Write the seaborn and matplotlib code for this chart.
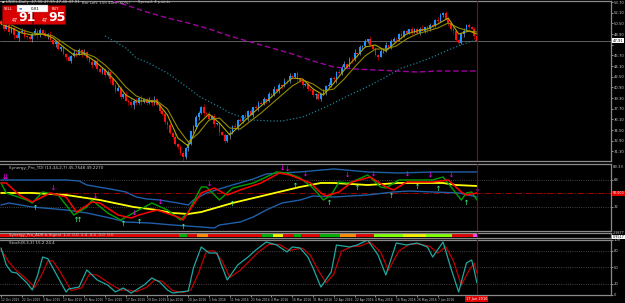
import matplotlib
matplotlib.use("Agg")
import matplotlib.pyplot as plt
from matplotlib.patches import Rectangle
import pandas as pd
import seaborn as sns

# ---------------- daily price bars (oldest first) ----------------
first_open = 50.90
close = [
    50.40, 49.70, 50.30, 49.20, 49.80, 48.70, 48.30, 49.20, 49.40, 48.60,
    48.40, 48.10, 48.90, 49.40, 48.70, 49.50, 49.10, 48.60, 48.90, 48.00,
    47.40, 47.70, 46.60, 46.90, 45.90, 45.50, 44.90, 45.60, 46.10, 45.80,
    46.50, 45.90, 46.20, 45.30, 44.70, 44.30, 44.90, 43.70, 43.20, 43.60,
    42.70, 43.20, 42.10, 41.30, 40.40, 40.80, 39.50, 39.90, 38.90, 38.70,
    38.20, 38.90, 38.50, 39.30, 38.70, 39.20, 38.50, 39.00, 38.60, 39.10,
    38.30, 37.40, 36.90, 35.70, 35.20, 34.10, 33.50, 32.40, 31.90, 31.00,
    30.40, 31.80, 32.40, 34.30, 34.90, 36.50, 37.00, 38.00, 37.00, 36.90,
    36.20, 36.60, 35.40, 35.50, 34.20, 33.80, 32.90, 33.70, 34.00, 35.10,
    34.90, 36.00, 35.80, 36.70, 36.40, 37.30, 36.80, 37.90, 37.80, 38.60,
    38.40, 39.10, 38.90, 39.90, 39.70, 40.60, 40.30, 41.30, 41.10, 41.90,
    41.80, 42.60, 42.40, 43.00, 42.20, 41.90, 41.20, 41.40, 40.60, 40.50,
    39.70, 39.90, 39.10, 39.90, 40.20, 41.10, 41.30, 42.30, 42.10, 43.20,
    43.00, 44.00, 44.40, 44.00, 45.20, 45.10, 46.10, 45.90, 46.90, 47.10,
    47.90, 48.10, 47.20, 46.60, 45.80, 45.50, 46.30, 46.40, 47.20, 47.00,
    47.80, 48.20, 48.10, 48.90, 48.60, 49.30, 49.10, 49.60, 49.20, 49.60,
    49.10, 49.70, 49.40, 49.90, 49.60, 50.30, 50.10, 51.00, 50.90, 51.80,
    52.00, 51.10, 50.60, 49.60, 49.30, 48.00, 47.60, 48.90, 49.40, 50.20,
    49.90, 49.70, 48.60, 47.91,
]
# shadow lengths in tenths of a dollar, one digit per bar
wick_up_digits = ("3241325243" "2314232415" "2132413252" "3142351324" "2314253142"
                  "6342513425" "2314231524" "3251423142" "5231423152" "4231524132"
                  "2413252314" "2531423152" "4132514231" "5241325142" "3152413251"
                  "4231524132" "3251423152" "2413523142" "4231")
wick_dn_digits = ("2314252413" "3241523142" "2413251324" "1423152413" "3152413214"
                  "2531423154" "2413524132" "6241325142" "3152413251" "2413251324"
                  "3152413251" "4231524132" "2513241325" "1324152413" "2413251324"
                  "3152413251" "2413524132" "3152413251" "3152")

# moving averages on the price window
fast_i = list(range(0, 184, 4)) + [183]
fast_ma = [50.40, 49.80, 49.05, 48.75, 48.90, 48.30, 46.95, 45.75, 45.90, 44.85,
           43.50, 41.85, 39.75, 38.85, 38.85, 38.70, 36.75, 33.30, 32.10, 35.40,
           36.90, 35.55, 33.75, 35.25, 36.75, 38.10, 39.45, 40.95, 42.30, 42.15,
           40.65, 39.75, 41.55, 43.50, 45.15, 46.95, 47.25, 46.35, 47.70, 48.90,
           49.35, 49.65, 50.40, 51.30, 48.90, 49.35, 48.90]
slow_ma = [50.70, 50.25, 49.50, 49.05, 48.90, 48.60, 47.55, 46.50, 46.05, 45.45,
           44.25, 42.75, 40.95, 39.60, 39.00, 38.85, 37.65, 34.80, 32.70, 34.05,
           36.00, 36.30, 34.80, 34.65, 35.85, 37.05, 38.40, 39.75, 41.10, 42.00,
           41.40, 40.35, 40.65, 42.15, 43.95, 45.60, 46.65, 46.65, 47.10, 48.15,
           48.90, 49.35, 49.80, 50.55, 49.80, 49.35, 49.20]
teal_i = [40, 48, 52, 56, 64, 72, 76, 84, 88, 96, 104, 108, 116,
          124, 128, 134, 140, 148, 154, 160, 166, 172, 179, 183]
teal_ma = [48.60, 46.80, 45.30, 44.70, 43.05,
           40.80, 39.60, 37.95, 37.05, 36.00, 35.85, 35.85, 36.45, 37.80, 38.55,
           39.75, 40.80, 42.45, 43.80, 44.55, 45.45, 46.50, 47.55, 48.00]
long_i = [40, 48, 56, 64, 72, 80, 88, 96, 104, 112, 120, 128, 136, 144, 152, 160,
          168, 176, 183]
long_ma = [54.15, 53.25, 52.20, 51.30, 50.55, 49.65, 48.60, 47.70, 46.80, 45.90,
           44.85, 43.95, 43.65, 43.50, 43.35, 43.20, 43.35, 43.35, 43.35]
price_ticks = [53.70, 52.10, 50.50, 48.90, 47.30, 45.70, 44.10, 42.50, 40.90,
               39.30, 37.70, 36.10, 34.50, 32.90, 31.30]

# ---------------- TDI window ----------------
green_i = [0, 2, 10, 12, 16, 22, 28, 33, 35, 41, 46, 53, 58, 64, 69, 72, 77, 79, 84,
           89, 97, 102, 106, 110, 115, 120, 124, 127, 130, 133, 135, 141, 146, 148,
           153, 160, 166, 170, 174, 177, 179, 181, 183]
green_v = [64.0, 50.7, 41.3, 37.3, 52.0, 48.0, 21.3, 32.0, 41.3, 24.0, 14.7, 28.0,
           37.3, 28.0, 14.7, 25.3, 58.7, 58.7, 41.3, 57.3, 64.0, 72.0, 78.7, 77.3,
           70.7, 57.3, 41.3, 48.0, 65.3, 64.0, 65.3, 74.7, 58.7, 57.3, 68.0, 68.0,
           68.0, 72.0, 54.7, 41.3, 50.7, 52.0, 41.3]
red_i = [0, 2, 7, 12, 19, 25, 29, 35, 38, 45, 50, 53, 60, 68, 70, 77, 82, 87, 92,
         100, 107, 111, 119, 123, 125, 130, 135, 142, 148, 151, 156, 166, 172, 177,
         179, 183]
red_v = [64.0, 64.0, 48.0, 38.7, 50.7, 45.3, 25.3, 38.7, 37.3, 21.3, 17.3, 21.3,
         28.0, 18.7, 14.7, 50.7, 57.3, 48.0, 54.7, 64.0, 77.3, 74.7, 64.0, 50.7,
         46.7, 52.0, 65.3, 72.0, 58.7, 54.7, 65.3, 65.3, 68.0, 52.0, 48.0, 50.7]
yellow_i = [0, 12, 25, 38, 51, 60, 66, 72, 77, 89, 102, 115, 123, 128, 141, 153,
            170, 175, 183]
yellow_v = [50.7, 50.7, 48.0, 41.3, 32.0, 28.0, 24.0, 22.7, 25.3, 37.3, 48.0, 58.7,
            64.0, 64.0, 61.3, 64.0, 64.0, 61.3, 60.0]
upper_i = [0, 25, 30, 33, 42, 48, 52, 56, 61, 68, 72, 74, 79, 89, 97, 102, 107, 115,
           128, 141, 153, 166, 183]
upper_v = [68.0, 68.0, 66.7, 61.3, 56.0, 52.0, 45.3, 42.7, 41.3, 37.3, 34.7, 41.3,
           50.7, 61.3, 69.3, 76.0, 77.3, 78.7, 82.7, 78.7, 77.3, 78.7, 78.7]
lower_i = [0, 3, 12, 25, 33, 42, 48, 57, 66, 77, 82, 84, 92, 97, 102, 108, 115, 120,
           128, 141, 151, 157, 166, 176, 183]
lower_v = [34.7, 37.3, 32.0, 28.0, 24.0, 17.3, 12.0, 10.7, 8.0, 5.3, 4.0, 8.0, 12.0,
           18.7, 28.0, 37.3, 41.3, 46.7, 45.3, 48.0, 52.0, 53.3, 52.0, 50.7, 45.3]
sell_i = [1, 2, 20, 36, 51, 61, 80, 108, 110, 117, 133, 143, 156, 165, 173, 183]
sell_v = [73.3, 73.3, 58.7, 48.0, 25.3, 40.0, 64.0, 85.3, 84.0, 77.3, 76.0, 77.3,
          77.3, 76.0, 76.0, 57.3]
buy_i = [13, 29, 30, 47, 53, 70, 89, 113, 126, 137, 150, 160, 168, 179]
buy_v = [32.0, 16.0, 16.0, 10.7, 13.3, 6.7, 37.3, 61.3, 38.7, 58.7, 48.0, 60.0,
         57.3, 38.7]

# ---------------- signal strip ----------------
strip_names = ["red", "green", "red", "orange", "red", "green", "yellow", "red",
               "green", "red", "green", "orange", "red", "lime", "yellow", "lime",
               "red", "magenta"]
strip_runs = [69, 3, 4, 4, 21, 4, 4, 4, 3, 7, 8, 6, 7, 11, 9, 10, 8, 2]

# ---------------- stochastic ----------------
st_i = [0, 2, 4, 6, 10, 12, 14, 16, 18, 21, 25, 26, 30, 33, 37, 41, 44, 47, 50, 52,
        55, 58, 61, 64, 66, 69, 72, 74, 77, 80, 83, 87, 91, 95, 98, 102, 106, 110,
        112, 115, 118, 120, 123, 127, 129, 134, 137, 141, 145, 148, 152, 156, 160,
        164, 166, 170, 173, 176, 179, 181, 182, 183]
st_main = [85.5, 54.5, 41.8, 40.0, 21.8, 9.1, 35.0, 69.1, 66.0, 40.0, 5.5, 10.9,
           14.5, 45.5, 27.3, 18.2, 5.5, 12.7, 3.6, 9.1, 18.2, 30.9, 23.6, 9.1, 3.6,
           5.5, 7.3, 49.1, 87.3, 76.4, 76.4, 27.3, 54.5, 69.1, 81.8, 96.4, 90.9,
           78.2, 87.3, 85.5, 69.1, 49.1, 14.5, 41.8, 90.9, 87.3, 90.9, 100.0, 72.7,
           36.4, 94.5, 90.9, 94.5, 87.3, 69.1, 96.4, 49.1, 5.5, 58.2, 63.6, 45.0,
           22.0]
sg_i = [0, 3, 6, 9, 13, 16, 18, 20, 23, 27, 31, 34, 37, 42, 46, 49, 52, 56, 59, 62,
        66, 70, 73, 76, 79, 82, 85, 88, 92, 96, 99, 103, 107, 111, 113, 116, 119,
        122, 125, 128, 131, 135, 138, 142, 146, 149, 153, 157, 161, 165, 168, 171,
        174, 177, 180, 182, 183]
st_signal = [82.0, 60.0, 44.0, 32.0, 14.0, 40.0, 62.0, 62.0, 40.0, 8.0, 13.0, 38.0,
             36.0, 20.0, 9.0, 9.0, 6.0, 14.0, 27.0, 25.0, 8.0, 4.5, 9.0, 40.0, 80.0,
             80.0, 62.0, 32.0, 45.0, 64.0, 78.0, 92.0, 92.0, 81.0, 83.0, 85.0, 72.0,
             45.0, 22.0, 38.0, 80.0, 88.0, 89.0, 96.0, 78.0, 45.0, 80.0, 92.0, 93.0,
             88.0, 76.0, 88.0, 62.0, 18.0, 45.0, 58.0, 40.0]

date_labels = ["12 Oct 2015", "22 Oct 2015", "3 Nov 2015", "13 Nov 2015",
               "25 Nov 2015", "7 Dec 2015", "17 Dec 2015", "29 Dec 2015",
               "8 Jan 2016", "20 Jan 2016", "1 Feb 2016", "11 Feb 2016",
               "23 Feb 2016", "4 Mar 2016", "16 Mar 2016", "31 Mar 2016",
               "12 Apr 2016", "22 Apr 2016", "4 May 2016", "16 May 2016",
               "26 May 2016", "7 Jun 2016"]

# ---------------- drawing ----------------
sns.set_style("dark", {"axes.facecolor": "black", "figure.facecolor": "black"})
plt.rcParams["font.family"] = ["DejaVu Sans"]

W, H = 625, 303
RIGHT = 611
fig = plt.figure(figsize=(W / 100, H / 100), dpi=100, facecolor="black")
TXT = "#c8c8c8"
FS = 2.7


def panel(top, bottom):
    ax = fig.add_axes([0, 1 - bottom / H, RIGHT / W, (bottom - top) / H])
    ax.set_facecolor("black")
    ax.set_xlim(-0.4, 234.6)
    for s in ("top", "bottom", "right"):
        ax.spines[s].set_color("#8a8a8a")
        ax.spines[s].set_linewidth(0.9)
    ax.spines["left"].set_visible(False)
    ax.yaxis.tick_right()
    ax.tick_params(axis="y", colors=TXT, labelsize=FS, length=1.5, width=0.5, pad=0.5)
    ax.tick_params(axis="x", bottom=False, labelbottom=False)
    ax.grid(False)
    return ax


ax = panel(0.5, 161)
ax_tdi = panel(164, 231)
ax_strip = panel(232.5, 237.5)
ax_st = panel(239.5, 295)

# candles
bars = pd.DataFrame({"o": [first_open] + close[:-1], "c": close,
                     "wu": [int(d) / 10 for d in wick_up_digits],
                     "wd": [int(d) / 10 for d in wick_dn_digits]})
bars["i"] = range(len(bars))
bars["top"] = bars[["o", "c"]].max(axis=1)
bars["bot"] = bars[["o", "c"]].min(axis=1)
bars["up"] = bars.c >= bars.o
body_col = bars.up.map({True: "#1e90ff", False: "#ff1010"})
wick_col = bars.up.map({True: "#8797aa", False: "#c80000"})
ax.vlines(bars.i, bars.bot - bars.wd, bars.top + bars.wu, colors=wick_col, lw=0.5, zorder=3)
ax.bar(bars.i, (bars.top - bars.bot).clip(lower=0.05), bottom=bars.bot, width=0.72,
       color=body_col, lw=0, zorder=4)

sns.lineplot(x=long_i, y=long_ma, ax=ax, color="#a000a0", lw=1.0,
             linestyle=(0, (4, 2)), zorder=5)
sns.lineplot(x=teal_i, y=teal_ma, ax=ax, color="#1b7f90", lw=0.9, linestyle=":", zorder=5)
sns.lineplot(x=fast_i, y=slow_ma, ax=ax, color="#8f8a00", lw=0.8, zorder=6)
sns.lineplot(x=fast_i, y=fast_ma, ax=ax, color="#b0a800", lw=0.8, zorder=6)
ax.axhline(close[-1], color="#6e6e6e", lw=0.6, zorder=2)
ax.set_ylim(29.85, 53.925)
ax.set_yticks(price_ticks)
ax.set_yticklabels([("" if abs(v - close[-1]) < 0.8 else f"{v:.2f}") for v in price_ticks])
ax.text(1.003, close[-1], f"{close[-1]:.2f}", transform=ax.get_yaxis_transform(),
        fontsize=FS, color="black", va="center", ha="left",
        bbox=dict(boxstyle="square,pad=0.15", fc="white", ec="none"))

# TDI
ax_tdi.set_ylim(0, 89.3)
for lvl in (68, 32):
    ax_tdi.axhline(lvl, color="#5a5a5a", lw=0.6, linestyle=":")
ax_tdi.axhline(50, color="#a00000", lw=0.7, linestyle="-.")
sns.lineplot(x=upper_i, y=upper_v, ax=ax_tdi, color="#1f5fa8", lw=1.0)
sns.lineplot(x=lower_i, y=lower_v, ax=ax_tdi, color="#1f5fa8", lw=1.0)
sns.lineplot(x=yellow_i, y=yellow_v, ax=ax_tdi, color="#ffff00", lw=1.3)
sns.lineplot(x=green_i, y=green_v, ax=ax_tdi, color="#00a000", lw=1.0)
sns.lineplot(x=red_i, y=red_v, ax=ax_tdi, color="#ff0000", lw=1.1)
sns.scatterplot(x=sell_i, y=sell_v, ax=ax_tdi, marker=r"$\downarrow$", s=14,
                color="#ff00ff", linewidth=0, zorder=7)
sns.scatterplot(x=buy_i, y=buy_v, ax=ax_tdi, marker=r"$\uparrow$", s=14,
                color="#40ff80", linewidth=0, zorder=7)
ax_tdi.set_yticks([68, 32])
ax_tdi.set_yticklabels(["68", "32"])
ax_tdi.text(1.003, 85, "89.33", transform=ax_tdi.get_yaxis_transform(),
            fontsize=FS, color=TXT, va="center", ha="left")
ax_tdi.text(1.003, 50, "50.000", transform=ax_tdi.get_yaxis_transform(),
            fontsize=2.3, color="white", va="center", ha="left",
            bbox=dict(boxstyle="square,pad=0.15", fc="#e00000", ec="none"))
ax_tdi.text(3, 86, "Synergy_Pro_TDI (13,34,2,7) 45.7548 49.2270", fontsize=3.0,
            color=TXT, va="top")

# strip
palette = {"red": "#e00000", "green": "#00b000", "orange": "#ff8c00",
           "yellow": "#f0f000", "lime": "#7fff00", "magenta": "#ff40ff"}
strip_cols = [palette[n] for n, k in zip(strip_names, strip_runs) for _ in range(k)]
ax_strip.set_ylim(0, 1)
ax_strip.bar(range(len(strip_cols)), 0.5, bottom=0.15, width=1.0, color=strip_cols, lw=0)
ax_strip.set_yticks([])
ax_strip.text(3, 0.95, "Synergy_Pro_ADR & Signal  1.0  0.0  2.4  0.0  0.0  0.0",
              fontsize=2.8, color=TXT, va="top", zorder=5)
ax_strip.text(1.003, 0.85, "2.9877", transform=ax_strip.transAxes, fontsize=2.4,
              color=TXT, va="center", ha="left")
ax_strip.text(1.003, 0.1, "0.9517", transform=ax_strip.transAxes, fontsize=2.4,
              color="black", va="center", ha="left",
              bbox=dict(boxstyle="square,pad=0.1", fc="white", ec="none"))

# stochastic
ax_st.set_ylim(0, 100.9)
for lvl in (80, 50, 20):
    ax_st.axhline(lvl, color="#5a5a5a", lw=0.6, linestyle=":")
sns.lineplot(x=sg_i, y=st_signal, ax=ax_st, color="#c00000", lw=0.9)
sns.lineplot(x=st_i, y=st_main, ax=ax_st, color="#20a8a0", lw=0.9)
ax_st.set_yticks([100, 80, 50, 20, 0])
ax_st.set_yticklabels(["100", "80", "50", "20", "0"])
ax_st.text(3, 99, "Stoch(8,3,3) 15.2 24.4", fontsize=3.0, color=TXT, va="top")
ax_st.set_xticks(list(range(0, 8 * len(date_labels), 8)))
ax_st.set_xticklabels(date_labels, ha="left")
ax_st.tick_params(axis="x", bottom=True, labelbottom=True, colors=TXT, labelsize=2.2,
                  length=1.5, width=0.5, pad=0.8)

# last bar marker line through every window
for a in (ax, ax_tdi, ax_strip, ax_st):
    a.axvline(len(close) - 1, color="#a00000", lw=0.8, zorder=8)
    a.set_xlim(-0.4, 234.6)


# chart header and one-click trading panel
def fig_box(x0, y0, x1, y1, **kw):
    fig.patches.append(Rectangle((x0 / W, 1 - y1 / H), (x1 - x0) / W, (y1 - y0) / H,
                                 transform=fig.transFigure, zorder=10, **kw))


def fig_txt(x, y, s, **kw):
    fig.text(x / W, 1 - y / H, s, zorder=11, **kw)


fig_txt(2, 2.5, "\u25aa USOIL,Daily  47.90 47.95 47.46 47.91", fontsize=2.8, color=TXT, va="center")
fig_txt(82, 2.5, "Bar Left: 15h 40m (60%)", fontsize=2.8, color=TXT, va="center")
fig_txt(138, 2.5, "Spread: 4 points", fontsize=2.8, color=TXT, va="center")
fig_box(2, 5, 32, 23.5, fc="#d80000", ec="#7a0000", lw=0.4)
fig_box(33, 5, 65, 23.5, fc="#d80000", ec="#7a0000", lw=0.4)
fig_box(17, 5.5, 48, 11.5, fc="white", ec="#909090", lw=0.3)
fig_txt(3.5, 8.5, "SELL", fontsize=2.6, color="white", va="center")
fig_txt(52, 8.5, "BUY", fontsize=2.6, color="white", va="center")
fig_txt(19, 8.5, "\u2261", fontsize=3, color="#3060c0", va="center")
fig_txt(31, 8.5, "0.01", fontsize=2.8, color="black", va="center")
fig_txt(12, 20.5, "47", fontsize=3.4, color="white", va="center")
fig_txt(18, 17.5, "91", fontsize=9, color="white", va="center", fontweight="bold")
fig_txt(42, 20.5, "47", fontsize=3.4, color="white", va="center")
fig_txt(48, 17.5, "95", fontsize=9, color="white", va="center", fontweight="bold")

# current time tag under the last bar
fig_txt(466, 299, "17 Jun 2016", fontsize=2.6, color="white", va="center",
        bbox=dict(boxstyle="square,pad=0.25", fc="#e00000", ec="none"))

fig.savefig("out.png", dpi=100, facecolor="black")
